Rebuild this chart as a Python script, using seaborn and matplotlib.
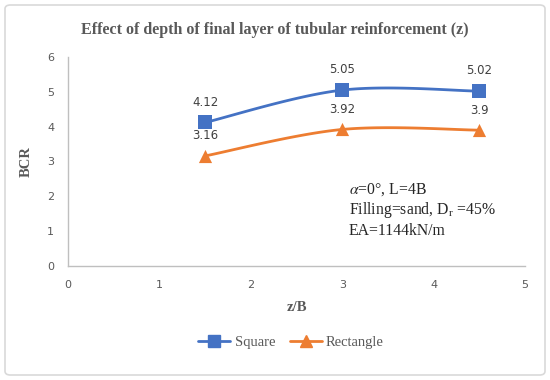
import numpy as np
import pandas as pd
import matplotlib
matplotlib.use("Agg")
import matplotlib.pyplot as plt
import seaborn as sns
from matplotlib.patches import FancyBboxPatch
from matplotlib.lines import Line2D

# ---- data ----
x_vals = [1.5, 3.0, 4.5]
square = [4.12, 5.05, 5.02]
rectangle = [3.16, 3.92, 3.90]
series_names = ["Square", "Rectangle"]
x_ticks = [0, 1, 2, 3, 4, 5]
y_ticks = [0, 1, 2, 3, 4, 5, 6]
title = "Effect of depth of final layer of tubular reinforcement (z)"
notes = ["$\\alpha$=0°, L=4B", "Filling=sand, D$_\\mathregular{r}$ =45%", "EA=1144kN/m"]

colors = {"Square": "#4472C4", "Rectangle": "#ED7D31"}
markers = {"Square": "s", "Rectangle": "^"}


def smooth(xs, ys, n=40):
    """Excel-like smoothed line (Catmull-Rom Bezier) through the data points."""
    xs = np.asarray(xs, float)
    ys = np.asarray(ys, float)
    px = np.concatenate([[xs[0]], xs, [xs[-1]]])
    py = np.concatenate([[ys[0]], ys, [ys[-1]]])
    ox, oy = [], []
    for i in range(1, len(px) - 2):
        p0 = np.array([px[i - 1], py[i - 1]])
        p1 = np.array([px[i], py[i]])
        p2 = np.array([px[i + 1], py[i + 1]])
        p3 = np.array([px[i + 2], py[i + 2]])
        c1 = p1 + (p2 - p0) / 6.0
        c2 = p2 - (p3 - p1) / 6.0
        t = np.linspace(0, 1, n)[:, None]
        b = ((1 - t) ** 3) * p1 + 3 * ((1 - t) ** 2) * t * c1 + 3 * (1 - t) * t ** 2 * c2 + t ** 3 * p2
        ox.extend(b[:, 0])
        oy.extend(b[:, 1])
    return np.array(ox), np.array(oy)


sns.set_theme(style="white")
plt.rcParams["font.family"] = ["DejaVu Sans"]
plt.rcParams["mathtext.fontset"] = "stix"

fig = plt.figure(figsize=(5.5, 3.8), dpi=100)
ax = fig.add_axes([68 / 550, 1 - 266 / 380, (525 - 68) / 550, (266 - 57) / 380])

# outer rounded border
fig.patches.append(FancyBboxPatch((5 / 550, 5 / 380), 540 / 550, 370 / 380,
                                  boxstyle="round,pad=0,rounding_size=0.01",
                                  transform=fig.transFigure, fill=False,
                                  edgecolor="#D9D9D9", linewidth=1.2))

data_series = {"Square": square, "Rectangle": rectangle}
for name in series_names:
    ys = data_series[name]
    sx, sy = smooth(x_vals, ys)
    curve = pd.DataFrame({"x": sx, "y": sy})
    sns.lineplot(data=curve, x="x", y="y", ax=ax, color=colors[name], linewidth=2, sort=False)
    pts = pd.DataFrame({"x": x_vals, "y": ys})
    sns.scatterplot(data=pts, x="x", y="y", ax=ax, color=colors[name], marker=markers[name],
                    s=90, edgecolor=colors[name], linewidth=0, zorder=5)
    for xv, yv in zip(x_vals, ys):
        lab = f"{yv:g}"
        ax.annotate(lab, (xv, yv), xytext=(0, 14.5),
                    textcoords="offset points", ha="center", va="center",
                    fontsize=8.5, color="#404040", family="DejaVu Sans")

ax.set_xlim(0, 5)
ax.set_ylim(0, 6)
ax.set_xticks(x_ticks)
ax.set_yticks(y_ticks)
ax.tick_params(axis="both", length=0, labelsize=8, labelcolor="#595959", pad=10)
for s in ["top", "right"]:
    ax.spines[s].set_visible(False)
for s in ["left", "bottom"]:
    ax.spines[s].set_color("#BFBFBF")
    ax.spines[s].set_linewidth(1)
ax.grid(False)

serif = ["Liberation Serif", "DejaVu Serif"]
ax.set_xlabel("z/B", fontsize=10.5, color="#595959", family=serif, fontweight="bold", labelpad=8)
ax.set_ylabel("BCR", fontsize=10.5, color="#595959", family=serif, fontweight="bold", labelpad=10)

fig.text(0.5, 1 - 30 / 380, title, ha="center", va="center", fontsize=11.5,
         color="#595959", family=serif, fontweight="bold")

for i, t in enumerate(notes):
    ax.text(349 / 550, 1 - (190 + 20.5 * i) / 380, t, transform=fig.transFigure,
            ha="left", va="center", fontsize=11.3, color="#262626", family=serif)

handles = [Line2D([0], [0], color=colors[n], marker=markers[n], markersize=8, linewidth=2)
           for n in series_names]
fig.legend(handles, series_names, loc="center", bbox_to_anchor=(291 / 550, 1 - 342 / 380),
           ncol=2, frameon=False, prop={"family": serif, "size": 10.5},
           labelcolor="#595959", handlelength=2.2, handletextpad=0.3, columnspacing=1.0)

fig.savefig("out.png", dpi=100)
